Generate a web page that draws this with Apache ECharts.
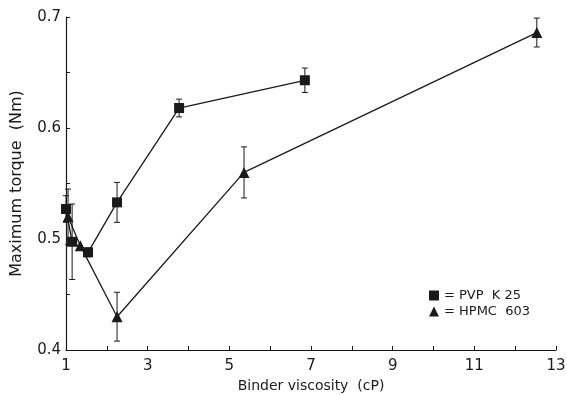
<!DOCTYPE html>
<html><head><meta charset="utf-8">
<script src="https://cdn.jsdelivr.net/npm/echarts@6/dist/echarts.min.js"></script>
<style>html,body{margin:0;padding:0;background:#fff}#c{width:567px;height:395px}</style>
</head><body><div id="c"></div>
<script>
const pvpX = [1.0, 1.15, 1.54, 2.25, 3.77, 6.85];
const pvpY = [0.527, 0.4975, 0.488, 0.533, 0.618, 0.643];
const pvpErr = [0.012, 0.034, 0.004, 0.018, 0.008, 0.011];
const hpmcX = [1.05, 1.35, 2.25, 5.36, 12.53];
const hpmcY = [0.52, 0.494, 0.43, 0.56, 0.686];
const hpmcErr = [0.025, 0.0, 0.022, 0.023, 0.013];
const xTicks = [1, 3, 5, 7, 9, 11, 13];
const yTicks = [0.4, 0.5, 0.6, 0.7];

const ink = '#1a1a1a';
const font = 'DejaVu Sans';
function pts(xs, ys) { return xs.map((x, i) => [x, ys[i]]); }
function errData(xs, ys, es) { return xs.map((x, i) => [x, ys[i] - es[i], ys[i] + es[i]]); }
function errSeries(data) {
  return {
    type: 'custom', data: data, z: 1,
    renderItem: function (params, api) {
      const x = api.value(0), lo = api.value(1), hi = api.value(2);
      if (hi - lo < 0.001) return null;
      const a = api.coord([x, lo]), b = api.coord([x, hi]);
      const w = 3;
      const st = { stroke: ink, lineWidth: 1 };
      return { type: 'group', children: [
        { type: 'line', shape: { x1: a[0], y1: a[1], x2: b[0], y2: b[1] }, style: st },
        { type: 'line', shape: { x1: a[0] - w, y1: a[1], x2: a[0] + w, y2: a[1] }, style: st },
        { type: 'line', shape: { x1: b[0] - w, y1: b[1], x2: b[0] + w, y2: b[1] }, style: st }
      ]};
    }
  };
}
const chart = echarts.init(document.getElementById('c'), null, { renderer: 'canvas' });
chart.setOption({
  animation: false,
  backgroundColor: '#fff',
  grid: { left: 66, right: 11, top: 17, bottom: 45, containLabel: false, outerBoundsMode: 'none' },
  xAxis: {
    type: 'value', min: 1, max: 13, interval: 1,
    name: 'Binder viscosity  (cP)', nameLocation: 'middle', nameGap: 28,
    nameTextStyle: { color: ink, fontFamily: font, fontSize: 14 },
    axisLine: { lineStyle: { color: ink, width: 1.2 } },
    axisTick: { inside: true, length: 4, lineStyle: { color: ink } },
    axisLabel: { color: ink, fontFamily: font, fontSize: 15, margin: 9, showMinLabel: true, showMaxLabel: true,
      formatter: v => xTicks.includes(v) ? String(v) : '' },
    splitLine: { show: false }
  },
  yAxis: {
    type: 'value', min: 0.4, max: 0.7, interval: 0.05,
    name: 'Maximum torque  (Nm)', nameLocation: 'middle', nameGap: 41,
    nameTextStyle: { color: ink, fontFamily: font, fontSize: 16 },
    axisLine: { show: true, lineStyle: { color: ink, width: 1.2 } },
    axisTick: { show: true, inside: true, length: 4, lineStyle: { color: ink } },
    axisLabel: { color: ink, fontFamily: font, fontSize: 15, margin: 5,
      formatter: v => { const t = yTicks.find(q => Math.abs(q - v) < 1e-6); return t === undefined ? '' : t.toFixed(1); } },
    splitLine: { show: false }
  },
  series: [
    errSeries(errData(pvpX, pvpY, pvpErr)),
    errSeries(errData(hpmcX, hpmcY, hpmcErr)),
    { type: 'line', name: 'PVP  K 25', data: pts(pvpX, pvpY), symbol: 'rect', symbolSize: 10,
      lineStyle: { color: ink, width: 1.3 }, itemStyle: { color: ink }, z: 3 },
    { type: 'line', name: 'HPMC  603', data: pts(hpmcX, hpmcY), symbol: 'triangle', symbolSize: 11,
      lineStyle: { color: ink, width: 1.3 }, itemStyle: { color: ink }, z: 3 }
  ],
  legend: {
    left: 424, top: 284, orient: 'vertical', itemGap: 3, itemWidth: 10, itemHeight: 10,
    data: [{ name: 'PVP  K 25', icon: 'rect' }, { name: 'HPMC  603', icon: 'triangle' }],
    formatter: n => '= ' + n,
    textStyle: { color: ink, fontFamily: font, fontSize: 13, padding: [0, 0, 0, 0] },
    itemStyle: { color: ink }, lineStyle: { width: 0 }
  }
});
</script></body></html>
